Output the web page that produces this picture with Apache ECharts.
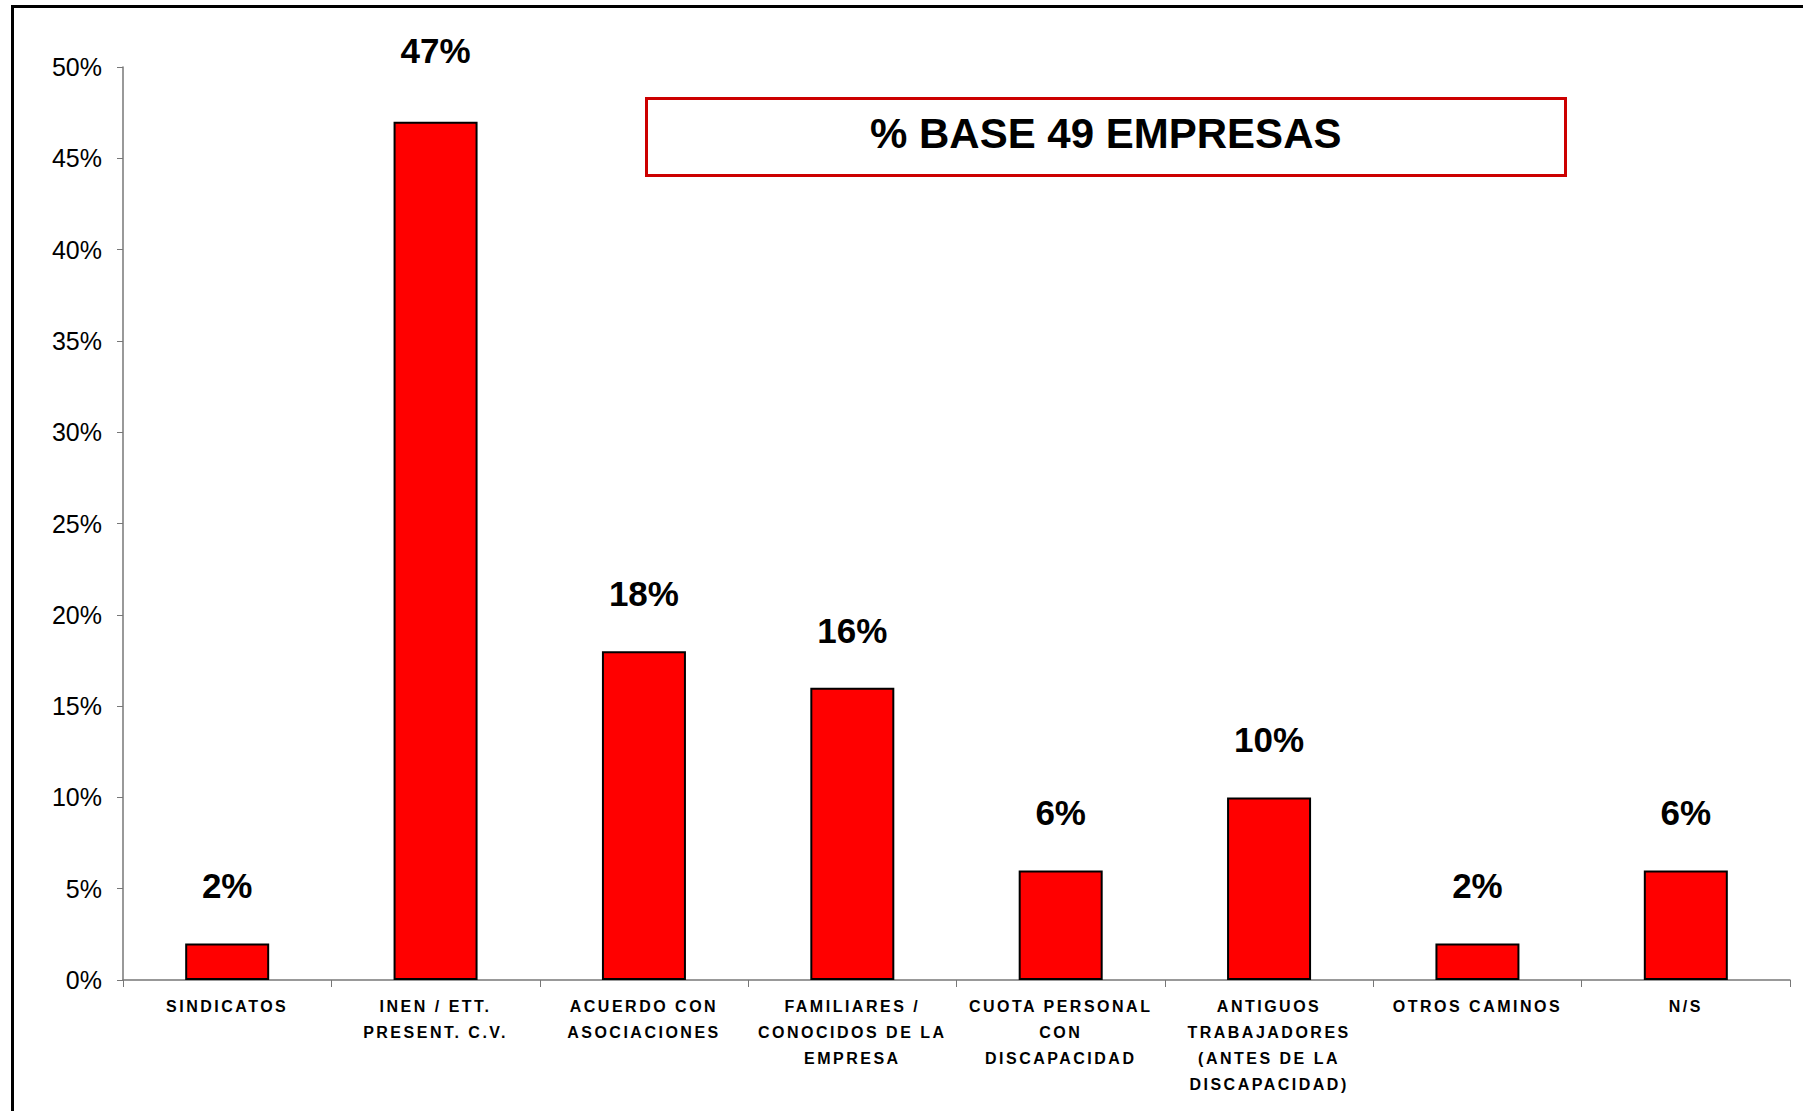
<!DOCTYPE html>
<html>
<head>
<meta charset="utf-8">
<script src="https://cdn.jsdelivr.net/npm/echarts@6/dist/echarts.min.js"></script>
<style>
  html, body { margin: 0; padding: 0; background: #fff; overflow: hidden; }
  #frame { position: absolute; left: 11px; top: 5px; width: 1900px; height: 1200px; border: 3px solid #000; box-sizing: border-box; }
  #chart { position: absolute; left: 0; top: 0; width: 1803px; height: 1111px; }
  #chart svg text[style*="16px"] { letter-spacing: 2.5px; }
</style>
</head>
<body>
<div id="frame"></div>
<div id="chart"></div>
<script>
const categories = [
  'SINDICATOS',
  'INEN / ETT.\nPRESENT. C.V.',
  'ACUERDO CON\nASOCIACIONES',
  'FAMILIARES /\nCONOCIDOS DE LA\nEMPRESA',
  'CUOTA PERSONAL\nCON\nDISCAPACIDAD',
  'ANTIGUOS\nTRABAJADORES\n(ANTES DE LA\nDISCAPACIDAD)',
  'OTROS CAMINOS',
  'N/S'
];
const values = [2, 47, 18, 16, 6, 10, 2, 6];
const yTicks = { min: 0, max: 50, interval: 5 };
const titleText = '% BASE 49 EMPRESAS';

const seriesData = values.map(function (v, i) {
  // the tallest bar's label sits higher in the reference (placed near the chart top)
  return i === values.indexOf(Math.max.apply(null, values))
    ? { value: v, label: { distance: 54 } }
    : v;
});

const chart = echarts.init(document.getElementById('chart'), null, { renderer: 'svg' });
chart.setOption({
  animation: false,
  backgroundColor: 'transparent',
  title: {
    text: titleText,
    left: 646,
    top: 98,
    padding: [14, 224, 22, 224],
    borderColor: '#cc0000',
    borderWidth: 3,
    textStyle: { fontFamily: 'Liberation Sans', fontWeight: 'bold', fontSize: 42, color: '#000' }
  },
  grid: { left: 123, right: 13, top: 67, bottom: 131, containLabel: false },
  xAxis: {
    type: 'category',
    data: categories,
    axisLine: { lineStyle: { color: '#777', width: 1.5 } },
    axisTick: { show: true, length: 7, alignWithLabel: false, lineStyle: { color: '#777' } },
    axisLabel: {
      interval: 0,
      margin: 13,
      fontFamily: 'Liberation Sans',
      fontWeight: 'bold',
      fontSize: 16,
      lineHeight: 26,
      color: '#000'
    }
  },
  yAxis: {
    type: 'value',
    min: yTicks.min,
    max: yTicks.max,
    interval: yTicks.interval,
    splitLine: { show: false },
    axisLine: { show: true, lineStyle: { color: '#777', width: 1.5 } },
    axisTick: { show: true, length: 6, lineStyle: { color: '#777' } },
    axisLabel: {
      formatter: '{value}%',
      margin: 21,
      fontFamily: 'Liberation Sans',
      fontSize: 25,
      color: '#000'
    }
  },
  series: [{
    type: 'bar',
    data: seriesData,
    barWidth: 84,
    itemStyle: { color: '#ff0000', borderColor: '#000', borderWidth: 2 },
    label: {
      show: true,
      position: 'top',
      distance: 40,
      formatter: '{c}%',
      fontFamily: 'Liberation Sans',
      fontWeight: 'bold',
      fontSize: 35,
      color: '#000'
    }
  }]
});
</script>
</body>
</html>
